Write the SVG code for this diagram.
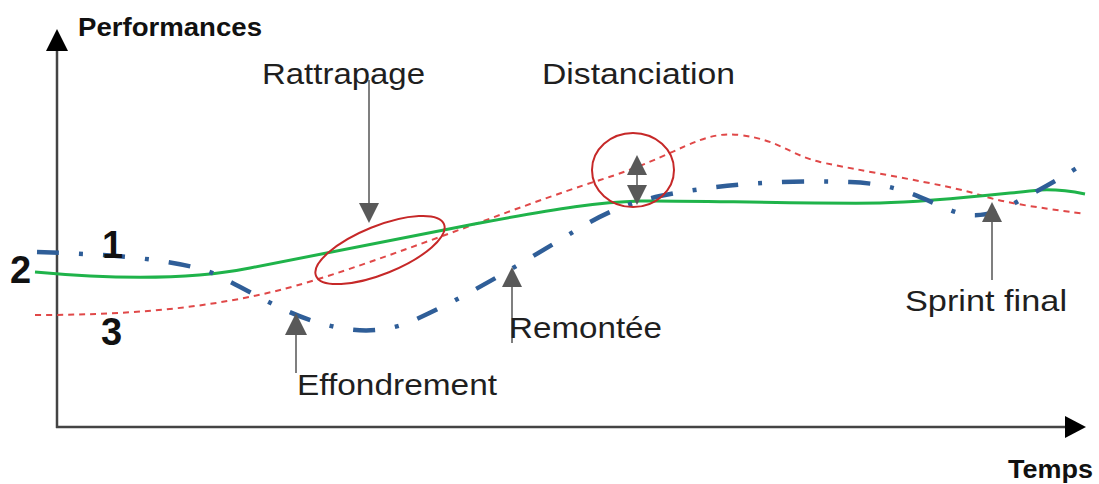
<svg xmlns="http://www.w3.org/2000/svg" width="1099" height="484" viewBox="0 0 1099 484">
<style>
.lbl{font-family:"Liberation Sans",Arial,sans-serif;font-size:29px;fill:#1f1f1f}
.ax{font-family:"Liberation Sans",Arial,sans-serif;font-size:25px;font-weight:bold;fill:#111}
.num{font-family:"Liberation Sans",Arial,sans-serif;font-size:38px;font-weight:bold;fill:#111}
.axis{stroke:#444;stroke-width:2.5;fill:none}
.ptr{stroke:#7f7f7f;stroke-width:2;fill:none}
.head{fill:#595959}
.ring{fill:none;stroke:#c62828;stroke-width:2}
</style>
<rect width="1099" height="484" fill="#fff"/>
<g id="axes">
<line class="axis" x1="57" y1="428" x2="57" y2="50"/>
<polygon points="57,29 46,51 68,51" fill="#000"/>
<line class="axis" x1="56" y1="427" x2="1066" y2="427"/>
<polygon points="1086,427 1065,416 1065,438" fill="#000"/>
<text class="ax" x="78" y="36" textLength="184" lengthAdjust="spacingAndGlyphs">Performances</text>
<text class="ax" x="1008" y="478" textLength="85" lengthAdjust="spacingAndGlyphs">Temps</text>
</g>
<g id="connectors">
<path id="curve3" d="M35,315 C120,315 200,310 280,290 S520,205 600,180 S700,130 740,135 S790,155 820,162 S950,185 980,195 S1060,210 1085,214" fill="none" stroke="#e04848" stroke-width="2" stroke-dasharray="6 5"/>
<path id="curve2" d="M35,272 C100,278 180,282 250,268 S400,238 480,223 S600,202 640,201 S800,204 880,203 C930,202 980,196 1040,190 C1060,189 1075,192 1085,194" fill="none" stroke="#1fb34a" stroke-width="3"/>
<path id="curve1" d="M37,252 C100,254 170,258 210,272 C250,290 280,312 320,323 C350,332 380,334 410,322 C460,300 510,270 560,240 C600,215 620,205 660,196 C720,184 780,180 850,182 C900,184 920,198 950,210 C975,220 995,215 1020,200 C1050,185 1070,172 1085,163" fill="none" stroke="#2f5e98" stroke-width="4.5" stroke-dasharray="22 20 4 20"/>
</g>
<g id="series-labels">
<text class="num" x="102" y="258">1</text>
<text class="num" x="10" y="283">2</text>
<text class="num" x="101" y="345">3</text>
</g>
<g id="rattrapage">
<ellipse class="ring" cx="380" cy="250" rx="69" ry="24" transform="rotate(-22 380 250)"/>
<line class="ptr" x1="369" y1="80" x2="369" y2="204"/>
<polygon class="head" points="369,223 359,203 379,203"/>
<text class="lbl" x="262" y="84" textLength="163" lengthAdjust="spacingAndGlyphs">Rattrapage</text>
</g>
<g id="distanciation">
<ellipse class="ring" cx="633" cy="170" rx="41" ry="37"/>
<line class="ptr" x1="637" y1="174" x2="637" y2="186"/>
<polygon class="head" points="637,155 627,175 647,175"/>
<polygon class="head" points="637,205 627,185 647,185"/>
<text class="lbl" x="542" y="84" textLength="193" lengthAdjust="spacingAndGlyphs">Distanciation</text>
</g>
<g id="effondrement">
<line class="ptr" x1="296" y1="334" x2="296" y2="373"/>
<polygon class="head" points="296,313 285,335 307,335"/>
<text class="lbl" x="297" y="395" textLength="200" lengthAdjust="spacingAndGlyphs">Effondrement</text>
</g>
<g id="remontee">
<line class="ptr" x1="512" y1="286" x2="512" y2="343"/>
<polygon class="head" points="512,267 502,287 522,287"/>
<text class="lbl" x="509" y="338" textLength="153" lengthAdjust="spacingAndGlyphs">Remontée</text>
</g>
<g id="sprint-final">
<line class="ptr" x1="992" y1="221" x2="992" y2="280"/>
<polygon class="head" points="992,202 982,222 1002,222"/>
<text class="lbl" x="905" y="311" textLength="162" lengthAdjust="spacingAndGlyphs">Sprint final</text>
</g>
</svg>
